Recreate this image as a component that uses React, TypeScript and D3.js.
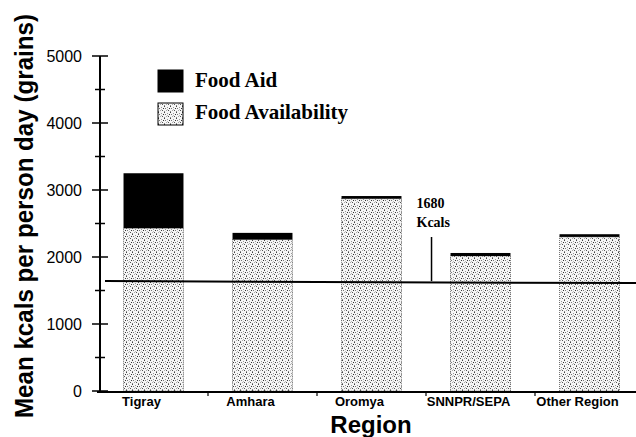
import React, { useEffect, useRef } from 'react';
import * as d3 from 'd3';

// values (kcals per person per day)
const regions = ['Tigray', 'Amhara', 'Oromya', 'SNNPR/SEPA', 'Other Region'];
const foodAvailability = [2430, 2260, 2870, 2015, 2300];
const foodAid = [820, 100, 40, 45, 40];
const yTicks = [0, 1000, 2000, 3000, 4000, 5000];
const yMinorTicks = [500, 1500, 2500, 3500, 4500];
const thresholdLine = 1640; // where the line sits on the scan
const thresholdLabel = ['1680', 'Kcals'];
const legendItems = ['Food Aid', 'Food Availability'];

// stipple dots for the "availability" fill: [x, y, grey]
const stipple = [
  [0, 0, '#444'], [3, 1, '#999'], [1, 2, '#777'], [5, 2, '#333'],
  [2, 4, '#aaa'], [4, 4, '#555'], [0, 5, '#888'], [3, 3, '#bbb'],
];

export default function App() {
  const ref = useRef<SVGSVGElement>(null);

  useEffect(() => {
    const svg = d3.select(ref.current);
    svg.selectAll('*').remove();

    const x = d3.scaleBand<string>()
      .domain(regions)
      .range([99, 644])
      .paddingInner(0.45)
      .paddingOuter(0.225);
    const y = d3.scaleLinear().domain([0, 5000]).range([391, 56]);
    const axisX = 100;

    // dotted fill pattern
    const pat = svg.append('defs').append('pattern')
      .attr('id', 'stipple')
      .attr('width', 6).attr('height', 6)
      .attr('patternUnits', 'userSpaceOnUse');
    pat.append('rect').attr('width', 6).attr('height', 6).attr('fill', '#f6f6f6');
    pat.selectAll('rect.dot').data(stipple).join('rect')
      .attr('class', 'dot')
      .attr('x', (d) => d[0] as number).attr('y', (d) => d[1] as number)
      .attr('width', 1).attr('height', 1)
      .attr('fill', (d) => d[2] as string);

    // bars: availability then aid on top
    const bars = svg.append('g');
    bars.selectAll('rect.avail').data(regions).join('rect')
      .attr('class', 'avail')
      .attr('x', (d) => x(d)!)
      .attr('width', x.bandwidth())
      .attr('y', (d, i) => y(foodAvailability[i]))
      .attr('height', (d, i) => y(0) - y(foodAvailability[i]))
      .attr('fill', 'url(#stipple)')
      .attr('stroke', '#555')
      .attr('stroke-width', 0.8)
      .attr('stroke-dasharray', '1,1');
    bars.selectAll('rect.aid').data(regions).join('rect')
      .attr('class', 'aid')
      .attr('x', (d) => x(d)!)
      .attr('width', x.bandwidth())
      .attr('y', (d, i) => y(foodAvailability[i] + foodAid[i]))
      .attr('height', (d, i) => y(foodAvailability[i]) - y(foodAvailability[i] + foodAid[i]))
      .attr('fill', '#000');

    // threshold line + annotation
    svg.append('line')
      .attr('x1', 105).attr('x2', 636)
      .attr('y1', y(thresholdLine)).attr('y2', y(thresholdLine) + 2)
      .attr('stroke', '#000').attr('stroke-width', 2);
    const annX = x('SNNPR/SEPA')! - 19;
    svg.append('line')
      .attr('x1', annX).attr('x2', annX)
      .attr('y1', 237).attr('y2', y(thresholdLine))
      .attr('stroke', '#000').attr('stroke-width', 1.5);
    svg.append('g').selectAll('text').data(thresholdLabel).join('text')
      .attr('x', annX - 15)
      .attr('y', (d, i) => 208 + i * 19)
      .attr('font-family', 'Liberation Serif, serif')
      .attr('font-weight', 'bold')
      .attr('font-size', 14)
      .text((d) => d);

    // y axis
    const ya = svg.append('g').attr('stroke', '#000');
    ya.append('line')
      .attr('x1', axisX).attr('x2', axisX)
      .attr('y1', y(0)).attr('y2', y(5000))
      .attr('stroke-width', 2);
    ya.selectAll('line.major').data(yTicks).join('line')
      .attr('class', 'major')
      .attr('x1', axisX - 8).attr('x2', axisX + 8)
      .attr('y1', (d) => y(d)).attr('y2', (d) => y(d))
      .attr('stroke-width', 1.5);
    ya.selectAll('line.minor').data(yMinorTicks).join('line')
      .attr('class', 'minor')
      .attr('x1', axisX - 5).attr('x2', axisX + 5)
      .attr('y1', (d) => y(d)).attr('y2', (d) => y(d))
      .attr('stroke-width', 1.5);
    svg.append('g').selectAll('text').data(yTicks).join('text')
      .attr('x', 82)
      .attr('y', (d) => y(d))
      .attr('dy', '0.35em')
      .attr('text-anchor', 'end')
      .attr('font-family', 'Liberation Sans, Arial, sans-serif')
      .attr('font-size', 16)
      .text((d) => d);

    // x axis
    const xa = svg.append('g').attr('stroke', '#000');
    xa.append('line')
      .attr('x1', axisX - 3).attr('x2', 636)
      .attr('y1', y(0) + 1).attr('y2', y(0) + 1)
      .attr('stroke-width', 2);
    const bounds = regions.slice(1).map((d) => x(d)! - x.step() * 0.225);
    xa.selectAll('line.tick').data(bounds).join('line')
      .attr('class', 'tick')
      .attr('x1', (d) => d).attr('x2', (d) => d)
      .attr('y1', y(0)).attr('y2', y(0) + 5)
      .attr('stroke-width', 1.2);
    svg.append('g').selectAll('text').data(regions).join('text')
      .attr('x', (d) => x(d)! + x.bandwidth() / 2 - 12)
      .attr('y', 406)
      .attr('text-anchor', 'middle')
      .attr('font-family', 'Liberation Sans, Arial, sans-serif')
      .attr('font-weight', 'bold')
      .attr('font-size', 13)
      .text((d) => d);

    // axis titles
    svg.append('text')
      .attr('x', 371).attr('y', 433)
      .attr('text-anchor', 'middle')
      .attr('font-family', 'Liberation Sans, Arial, sans-serif')
      .attr('font-weight', 'bold')
      .attr('font-size', 24)
      .text('Region');
    svg.append('text')
      .attr('transform', 'translate(33,216) rotate(-90)')
      .attr('text-anchor', 'middle')
      .attr('font-family', 'Liberation Sans, Arial, sans-serif')
      .attr('font-weight', 'bold')
      .attr('font-size', 25)
      .attr('textLength', 404)
      .attr('lengthAdjust', 'spacingAndGlyphs')
      .text('Mean kcals per person day (grains)');

    // legend
    const lg = svg.append('g').attr('transform', 'translate(158,70)');
    lg.selectAll('rect').data(legendItems).join('rect')
      .attr('x', 0).attr('y', (d, i) => i * 33)
      .attr('width', 25).attr('height', 22)
      .attr('fill', (d, i) => (i === 0 ? '#000' : 'url(#stipple)'))
      .attr('stroke', '#000')
      .attr('stroke-width', 1);
    lg.selectAll('text').data(legendItems).join('text')
      .attr('x', 37).attr('y', (d, i) => 17 + i * 32)
      .attr('font-family', 'Liberation Serif, Times New Roman, serif')
      .attr('font-weight', 'bold')
      .attr('font-size', 21)
      .text((d) => d);
  }, []);

  return (
    <svg
      ref={ref}
      width={636}
      height={437}
      style={{ position: 'absolute', left: 0, top: 0, background: '#fff' }}
    />
  );
}
